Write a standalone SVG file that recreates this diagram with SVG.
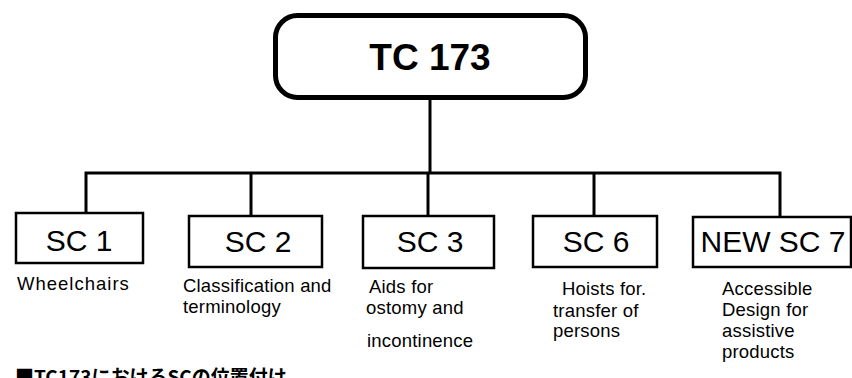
<svg xmlns="http://www.w3.org/2000/svg" width="852" height="378" viewBox="0 0 852 378">
<style>
.box{fill:#fff;stroke:#000;stroke-width:2.5}
.top{fill:#fff;stroke:#000;stroke-width:5}
.lbl{font-family:"Liberation Sans",Arial,sans-serif;font-size:30px;fill:#000;text-anchor:middle}
.ttl{font-family:"Liberation Sans",Arial,sans-serif;font-size:37px;font-weight:bold;fill:#000;text-anchor:middle}
.desc{font-family:"Liberation Sans",Arial,sans-serif;font-size:18.5px;fill:#000;letter-spacing:0.2px}
.cap{font-family:"Noto Sans CJK JP","Liberation Sans",sans-serif;font-size:19px;font-weight:bold;fill:#000}
.con{fill:none;stroke:#000;stroke-width:3}
</style>
<rect width="852" height="378" fill="#fff"/>
<g id="connectors">
<line class="con" x1="430" y1="97" x2="430" y2="173"/>
<polyline class="con" points="86,213 86,173 780,173 780,217"/>
<line class="con" x1="251" y1="173" x2="251" y2="216"/>
<line class="con" x1="428" y1="173" x2="428" y2="216"/>
<line class="con" x1="594" y1="173" x2="594" y2="216"/>
</g>
<g id="tc173">
<rect class="top" x="275.5" y="15.5" width="310" height="82" rx="22"/>
<text class="ttl" x="430" y="70">TC 173</text>
</g>
<g id="sc1">
<rect class="box" x="16" y="213" width="127" height="50"/>
<text class="lbl" x="79" y="251">SC 1</text>
<text class="desc" x="17" y="290" style="letter-spacing:1px">Wheelchairs</text>
</g>
<g id="sc2">
<rect class="box" x="189" y="216" width="133" height="51"/>
<text class="lbl" x="258" y="252">SC 2</text>
<text class="desc" x="183" y="292">Classification and</text>
<text class="desc" x="183" y="313">terminology</text>
</g>
<g id="sc3">
<rect class="box" x="363" y="216" width="131" height="52"/>
<text class="lbl" x="430" y="252">SC 3</text>
<text class="desc" x="369" y="293">Aids for</text>
<text class="desc" x="366" y="314">ostomy and</text>
<text class="desc" x="367" y="347">incontinence</text>
</g>
<g id="sc6">
<rect class="box" x="533" y="216" width="124" height="51"/>
<text class="lbl" x="596" y="252">SC 6</text>
<text class="desc" x="562" y="295">Hoists for.</text>
<text class="desc" x="553" y="317">transfer of</text>
<text class="desc" x="553" y="337">persons</text>
</g>
<g id="sc7">
<rect class="box" x="693" y="217" width="158" height="50"/>
<text class="lbl" x="773" y="252">NEW SC 7</text>
<text class="desc" x="722" y="295">Accessible</text>
<text class="desc" x="722" y="316">Design for</text>
<text class="desc" x="722" y="337">assistive</text>
<text class="desc" x="722" y="358">products</text>
</g>
<text class="cap" x="15" y="384">■TC173におけるSCの位置付け</text>
</svg>
